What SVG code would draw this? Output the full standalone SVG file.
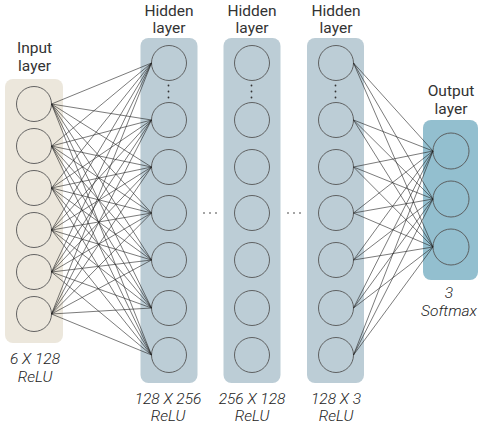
<svg xmlns="http://www.w3.org/2000/svg" width="479" height="426" viewBox="0 0 479 426">
<style>
.t{font-family:Roboto,"Liberation Sans",sans-serif;font-size:15.5px;fill:#333;text-anchor:middle}
.b{font-family:Roboto,"Liberation Sans",sans-serif;font-size:15.5px;font-style:italic;font-weight:300;fill:#222;text-anchor:middle}
.n{fill:none;stroke:#555;stroke-width:0.9}
.c{fill:none;stroke:#222;stroke-width:0.6}
.d{fill:#333}
</style>
<rect width="479" height="426" fill="#fff"/>
<g id="input-layer">
<rect x="5" y="79" width="58" height="264" rx="8" fill="#ece7dc"/>
<circle class="n" cx="34" cy="104" r="17.5"/>
<circle class="n" cx="34" cy="146" r="17.5"/>
<circle class="n" cx="34" cy="188" r="17.5"/>
<circle class="n" cx="34" cy="230" r="17.5"/>
<circle class="n" cx="34" cy="272" r="17.5"/>
<circle class="n" cx="34" cy="314" r="17.5"/>
<text class="t" x="34.5" y="53">Input</text>
<text class="t" x="34.5" y="70.5">layer</text>
<text class="b" x="35" y="364">6 X 128</text>
<text class="b" x="35" y="382">ReLU</text>
</g>
<g id="hidden-layer-1">
<rect x="140.5" y="38" width="57" height="345" rx="8" fill="#bccdd6"/>
<circle class="n" cx="169" cy="63" r="17.5"/>
<circle class="n" cx="169" cy="120" r="17.5"/>
<circle class="n" cx="169" cy="167" r="17.5"/>
<circle class="n" cx="169" cy="213" r="17.5"/>
<circle class="n" cx="169" cy="260" r="17.5"/>
<circle class="n" cx="169" cy="308" r="17.5"/>
<circle class="n" cx="169" cy="355" r="17.5"/>
<circle class="d" cx="168.5" cy="85.5" r="0.9"/>
<circle class="d" cx="168.5" cy="91.5" r="0.9"/>
<circle class="d" cx="168.5" cy="97.5" r="0.9"/>
<text class="t" x="169" y="15.5">Hidden</text>
<text class="t" x="169" y="33">layer</text>
<text class="b" x="168" y="404">128 X 256</text>
<text class="b" x="168" y="421">ReLU</text>
</g>
<g id="hidden-layer-2">
<rect x="223.5" y="38" width="57" height="345" rx="8" fill="#bccdd6"/>
<circle class="n" cx="252" cy="63" r="17.5"/>
<circle class="n" cx="252" cy="120" r="17.5"/>
<circle class="n" cx="252" cy="167" r="17.5"/>
<circle class="n" cx="252" cy="213" r="17.5"/>
<circle class="n" cx="252" cy="260" r="17.5"/>
<circle class="n" cx="252" cy="308" r="17.5"/>
<circle class="n" cx="252" cy="355" r="17.5"/>
<circle class="d" cx="251.5" cy="85.5" r="0.9"/>
<circle class="d" cx="251.5" cy="91.5" r="0.9"/>
<circle class="d" cx="251.5" cy="97.5" r="0.9"/>
<text class="t" x="252" y="15.5">Hidden</text>
<text class="t" x="252" y="33">layer</text>
<text class="b" x="252" y="404">256 X 128</text>
<text class="b" x="252" y="421">ReLU</text>
</g>
<g id="hidden-layer-3">
<rect x="307" y="38" width="57" height="345" rx="8" fill="#bccdd6"/>
<circle class="n" cx="336" cy="63" r="17.5"/>
<circle class="n" cx="336" cy="120" r="17.5"/>
<circle class="n" cx="336" cy="167" r="17.5"/>
<circle class="n" cx="336" cy="213" r="17.5"/>
<circle class="n" cx="336" cy="260" r="17.5"/>
<circle class="n" cx="336" cy="308" r="17.5"/>
<circle class="n" cx="336" cy="355" r="17.5"/>
<circle class="d" cx="335.5" cy="85.5" r="0.9"/>
<circle class="d" cx="335.5" cy="91.5" r="0.9"/>
<circle class="d" cx="335.5" cy="97.5" r="0.9"/>
<text class="t" x="336" y="15.5">Hidden</text>
<text class="t" x="336" y="33">layer</text>
<text class="b" x="336" y="404">128 X 3</text>
<text class="b" x="336" y="421">ReLU</text>
</g>
<g id="output-layer">
<rect x="423" y="120" width="55" height="160" rx="8" fill="#93bfcf"/>
<circle class="n" cx="451" cy="151" r="18"/>
<circle class="n" cx="451" cy="199" r="18"/>
<circle class="n" cx="451" cy="247" r="18"/>
<text class="t" x="451" y="96">Output</text>
<text class="t" x="451" y="113.5">layer</text>
<text class="b" x="449" y="298">3</text>
<text class="b" x="449" y="316">Softmax</text>
</g>
<g id="ellipses">
<circle class="d" cx="204" cy="213" r="0.8"/>
<circle class="d" cx="210" cy="213" r="0.8"/>
<circle class="d" cx="216" cy="213" r="0.8"/>
<circle class="d" cx="288" cy="213" r="0.8"/>
<circle class="d" cx="294" cy="213" r="0.8"/>
<circle class="d" cx="300" cy="213" r="0.8"/>
</g>
<g id="connectors">
<path class="c" d="M51.5 104L151.5 63M51.5 104L151.5 120M51.5 104L151.5 167M51.5 104L151.5 213M51.5 104L151.5 260M51.5 104L151.5 308M51.5 104L151.5 355"/>
<path class="c" d="M51.5 146L151.5 63M51.5 146L151.5 120M51.5 146L151.5 167M51.5 146L151.5 213M51.5 146L151.5 260M51.5 146L151.5 308M51.5 146L151.5 355"/>
<path class="c" d="M51.5 188L151.5 63M51.5 188L151.5 120M51.5 188L151.5 167M51.5 188L151.5 213M51.5 188L151.5 260M51.5 188L151.5 308M51.5 188L151.5 355"/>
<path class="c" d="M51.5 230L151.5 63M51.5 230L151.5 120M51.5 230L151.5 167M51.5 230L151.5 213M51.5 230L151.5 260M51.5 230L151.5 308M51.5 230L151.5 355"/>
<path class="c" d="M51.5 272L151.5 63M51.5 272L151.5 120M51.5 272L151.5 167M51.5 272L151.5 213M51.5 272L151.5 260M51.5 272L151.5 308M51.5 272L151.5 355"/>
<path class="c" d="M51.5 314L151.5 63M51.5 314L151.5 120M51.5 314L151.5 167M51.5 314L151.5 213M51.5 314L151.5 260M51.5 314L151.5 308M51.5 314L151.5 355"/>
<path class="c" d="M353.5 63L433 151M353.5 63L433 199M353.5 63L433 247"/>
<path class="c" d="M353.5 120L433 151M353.5 120L433 199M353.5 120L433 247"/>
<path class="c" d="M353.5 167L433 151M353.5 167L433 199M353.5 167L433 247"/>
<path class="c" d="M353.5 213L433 151M353.5 213L433 199M353.5 213L433 247"/>
<path class="c" d="M353.5 260L433 151M353.5 260L433 199M353.5 260L433 247"/>
<path class="c" d="M353.5 308L433 151M353.5 308L433 199M353.5 308L433 247"/>
<path class="c" d="M353.5 355L433 151M353.5 355L433 199M353.5 355L433 247"/>
</g>
</svg>
